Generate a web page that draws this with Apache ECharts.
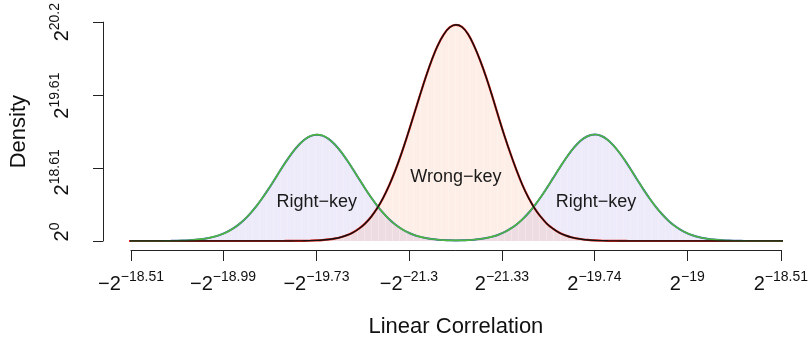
<!DOCTYPE html>
<html>
<head>
<meta charset="utf-8">
<script src="https://cdn.jsdelivr.net/npm/echarts@6/dist/echarts.min.js"></script>
<style>
  html, body { margin: 0; padding: 0; background: #ffffff; }
  #chart { width: 811px; height: 345px; }
</style>
</head>
<body>
<div id="chart"></div>
<script>
// Positions along the linear-correlation axis, in units of 1e-6
const corr = [
  -2.70, -2.65, -2.60, -2.55, -2.50, -2.45, -2.40, -2.35, -2.30, -2.25, -2.20, -2.15, -2.10, -2.05,
  -2.00, -1.95, -1.90, -1.85, -1.80, -1.75, -1.70, -1.65, -1.60, -1.55, -1.50, -1.45, -1.40, -1.35,
  -1.30, -1.25, -1.20, -1.15, -1.10, -1.05, -1.00, -0.95, -0.90, -0.85, -0.80, -0.75, -0.70, -0.65,
  -0.60, -0.55, -0.50, -0.45, -0.40, -0.35, -0.30, -0.25, -0.20, -0.15, -0.10, -0.05,
  0.00,
  0.05, 0.10, 0.15, 0.20, 0.25, 0.30, 0.35, 0.40, 0.45, 0.50, 0.55, 0.60, 0.65, 0.70,
  0.75, 0.80, 0.85, 0.90, 0.95, 1.00, 1.05, 1.10, 1.15, 1.20, 1.25, 1.30, 1.35, 1.40,
  1.45, 1.50, 1.55, 1.60, 1.65, 1.70, 1.75, 1.80, 1.85, 1.90, 1.95, 2.00, 2.05, 2.10,
  2.15, 2.20, 2.25, 2.30, 2.35, 2.40, 2.45, 2.50, 2.55, 2.60, 2.65, 2.70
];

// Right-key density (thousands): two symmetric modes
const rightKey = [
  0, 0, 0.1, 0.1, 0.2, 0.3, 0.5, 0.9, 1.6, 2.5, 4.1, 6.5, 10.1, 15.2,
  22.6, 32.5, 45.8, 63.6, 86.0, 114.1, 148.2, 187.4, 232.5, 281.2, 333.4, 386.5, 438.0, 485.2,
  525.4, 557.0, 577.6, 585.5, 580.2, 562.0, 532.5, 493.4, 447.0, 396.0, 343.1, 290.6, 240.8, 195.2,
  154.7, 119.8, 90.8, 67.3, 48.8, 34.5, 24.1, 16.3, 11.0, 7.3, 5.0, 3.7,
  3.3,
  3.7, 5.0, 7.3, 11.0, 16.4, 24.2, 34.7, 49.0, 67.7, 91.3, 120.5, 155.5, 196.3, 242.2,
  292.2, 344.8, 397.8, 448.8, 495.0, 534.0, 563.2, 581.0, 586.0, 578.0, 557.2, 525.0, 484.5, 437.0,
  385.2, 332.0, 279.9, 231.0, 186.0, 147.0, 113.0, 85.0, 62.8, 45.0, 31.9, 22.0, 14.8, 9.8,
  6.3, 4.0, 2.4, 1.5, 0.9, 0.5, 0.3, 0.2, 0.1, 0.1, 0, 0
];

// Wrong-key density (thousands): single mode centred on zero
const wrongKey = [
  0, 0, 0, 0, 0, 0, 0, 0, 0, 0, 0, 0, 0, 0,
  0, 0, 0, 0, 0, 0, 0, 0, 0, 0, 0.1, 0.1, 0.2, 0.3,
  0.6, 1.1, 1.9, 3.2, 5.2, 8.5, 13.5, 20.8, 31.5, 46.7, 67.6, 95.6, 132.4, 179.1,
  237.0, 306.7, 388.0, 480.1, 580.9, 687.2, 795.0, 899.3, 994.7, 1075.8, 1137.6, 1176.7,
  1190.0,
  1178.0, 1139.1, 1074.0, 993.5, 900.2, 796.3, 686.0, 579.4, 481.0, 389.2, 305.9, 236.1, 178.6, 133.0,
  95.2, 67.9, 46.4, 31.7, 20.6, 13.6, 8.4, 5.3, 3.1, 1.9, 1.1, 0.6, 0.3, 0.2,
  0.1, 0.1, 0, 0, 0, 0, 0, 0, 0, 0, 0, 0, 0, 0,
  0, 0, 0, 0, 0, 0, 0, 0, 0, 0, 0, 0
];

// Axis tick labels: sign and power-of-two exponent
const xTickSigns = [-1, -1, -1, -1, 1, 1, 1, 1];
const xTickExps = [-18.51, -18.99, -19.73, -21.3, -21.33, -19.74, -19, -18.51];
const yTickExps = [0, 18.61, 19.61, 20.2];

// In-plot annotations
const noteText = ['Right−key', 'Wrong−key', 'Right−key'];
const noteX = [-1.147, 0.0, 1.155];
const noteY = [216, 350, 216];

const FONT = 'Liberation Sans, Arial, Helvetica, sans-serif';

const xTicks = xTickExps.map((e, i) => xTickSigns[i] * Math.pow(2, e) * 1e6);
const yTicks = yTickExps.map(e => Math.pow(2, e) / 1000);

const expText = e => (e < 0 ? '−' : '') + Math.abs(e);
const nearest = (arr, v) => {
  let best = 0;
  arr.forEach((t, i) => { if (Math.abs(t - v) < Math.abs(arr[best] - v)) best = i; });
  return best;
};

// base "2" and raised exponent
const rich = {
  b:  { fontSize: 20, verticalAlign: 'middle', fontFamily: FONT, color: '#111' },
  b0: { fontSize: 20, verticalAlign: 'middle', fontFamily: FONT, color: '#111', padding: [0, 0, 0, 18] },
  s:  { fontSize: 14, verticalAlign: 'middle', fontFamily: FONT, color: '#111', padding: [0, 0, 14, 0] },
  s1: { fontSize: 14, verticalAlign: 'middle', fontFamily: FONT, color: '#111', padding: [0, 8, 14, 0] }
};

const rkPairs = corr.map((x, i) => [x, rightKey[i]]);
const wkPairs = corr.map((x, i) => [x, wrongKey[i]]);

const lineBase = { type: 'line', smooth: 0.4, showSymbol: false, silent: true, clip: true };

// faint vertical stripes of the histogram bars
const barStripes = {
  symbol: 'rect',
  symbolSize: 1,
  dashArrayX: [1, 6],
  dashArrayY: [4, 0],
  color: 'rgba(255,255,255,0.3)'
};

const chart = echarts.init(document.getElementById('chart'), null, { renderer: 'canvas' });
chart.setOption({
  animation: false,
  backgroundColor: '#ffffff',
  grid: { left: 128, right: 27, top: 22, bottom: 104, containLabel: false },
  xAxis: {
    type: 'value',
    min: xTicks[0],
    max: xTicks[xTicks.length - 1],
    offset: 9,
    axisLine: { show: true, onZero: false, lineStyle: { color: '#222', width: 1 } },
    axisTick: { show: true, customValues: xTicks, length: 11, lineStyle: { color: '#222', width: 1 } },
    axisLabel: {
      customValues: xTicks,
      margin: 20,
      formatter: v => {
        const i = nearest(xTicks, v);
        return '{b|' + (xTickSigns[i] < 0 ? '−2' : '2') + '}{s|' + expText(xTickExps[i]) + '}';
      },
      rich: rich
    },
    splitLine: { show: false },
    name: 'Linear Correlation',
    nameLocation: 'middle',
    nameGap: 66,
    nameTextStyle: { fontSize: 22, fontFamily: FONT, color: '#111' }
  },
  yAxis: {
    type: 'value',
    min: 0,
    max: yTicks[yTicks.length - 1],
    offset: 28,
    axisLine: { show: true, onZero: false, lineStyle: { color: '#222', width: 1 } },
    axisTick: { show: true, customValues: yTicks, length: 10, lineStyle: { color: '#222', width: 1 } },
    axisLabel: {
      customValues: yTicks,
      rotate: 90,
      margin: 27,
      formatter: v => {
        const i = nearest(yTicks, v);
        const bs = i === 0 ? 'b0' : 'b';
        const ss = i === 1 ? 's1' : 's';
        return '{' + bs + '|2}{' + ss + '|' + expText(yTickExps[i]) + '}';
      },
      rich: rich
    },
    splitLine: { show: false },
    name: 'Density',
    nameLocation: 'middle',
    nameGap: 73,
    nameTextStyle: { fontSize: 22, fontFamily: FONT, color: '#111' }
  },
  series: [
    // histogram fills
    Object.assign({}, lineBase, {
      data: rkPairs, z: 1,
      lineStyle: { width: 0, opacity: 0 },
      itemStyle: { decal: barStripes },
      areaStyle: { color: 'rgba(135,115,215,0.22)' }
    }),
    Object.assign({}, lineBase, {
      data: wkPairs, z: 1,
      lineStyle: { width: 0, opacity: 0 },
      itemStyle: { decal: barStripes },
      areaStyle: { color: 'rgba(245,150,100,0.22)' }
    }),
    // histogram outlines
    Object.assign({}, lineBase, {
      data: rkPairs, z: 2,
      lineStyle: { width: 2.0, color: '#3553b8' }
    }),
    Object.assign({}, lineBase, {
      data: wkPairs, z: 2,
      lineStyle: { width: 2.2, color: '#e3231b' }
    }),
    // density curves
    Object.assign({}, lineBase, {
      data: rkPairs, z: 3,
      lineStyle: { width: 1.6, color: '#4db83e' }
    }),
    Object.assign({}, lineBase, {
      data: wkPairs, z: 3,
      lineStyle: { width: 1.4, color: '#111111' }
    }),
    // annotations placed in data coordinates
    {
      type: 'custom',
      silent: true,
      z: 5,
      data: noteText.map((t, i) => [noteX[i], noteY[i], t]),
      renderItem: (params, api) => {
        const p = api.coord([api.value(0), api.value(1)]);
        return {
          type: 'text',
          x: p[0],
          y: p[1],
          style: {
            text: noteText[params.dataIndex],
            fontSize: 18,
            fontFamily: FONT,
            fill: '#1a1a1a',
            align: 'center',
            verticalAlign: 'middle'
          }
        };
      }
    }
  ]
});
</script>
</body>
</html>
